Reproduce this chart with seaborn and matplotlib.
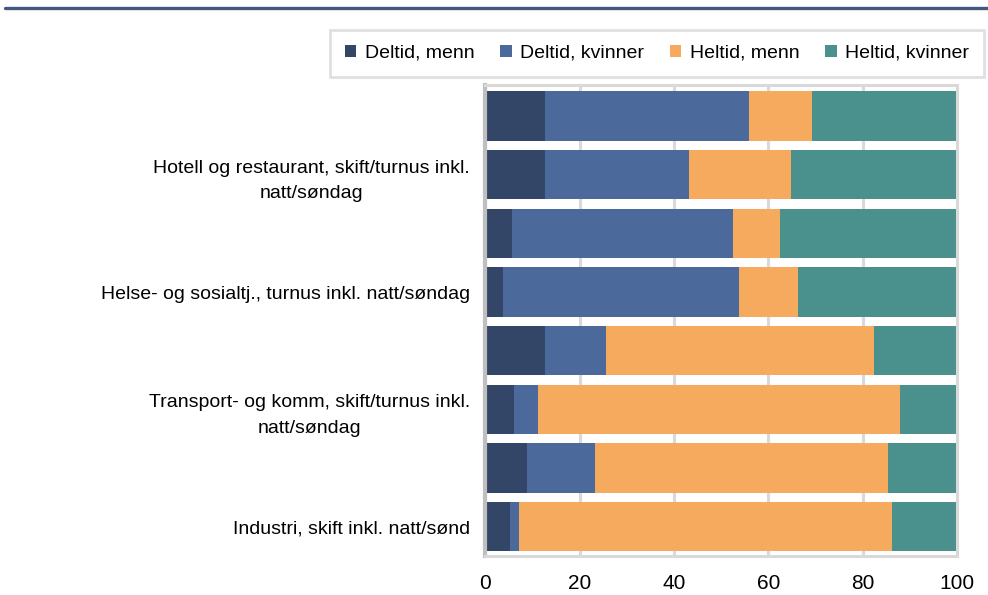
import matplotlib.pyplot as plt
import seaborn as sns
import pandas as pd
from matplotlib.lines import Line2D

# one row per bar, top to bottom
rows = ['rad1', 'rad2', 'rad3', 'rad4', 'rad5', 'rad6', 'rad7', 'rad8']
row_labels = ['',
              'Hotell og restaurant, skift/turnus inkl.\nnatt/søndag',
              '',
              'Helse- og sosialtj., turnus inkl. natt/søndag',
              '',
              'Transport- og komm, skift/turnus inkl.\nnatt/søndag',
              '',
              'Industri, skift inkl. natt/sønd']
deltid_menn = [12.6, 12.6, 5.8, 3.7, 12.6, 6.2, 8.8, 5.3]
deltid_kvinner = [43.4, 30.7, 46.8, 50.2, 13.1, 5.1, 14.4, 1.8]
heltid_menn = [13.2, 21.6, 9.8, 12.3, 56.7, 76.6, 62.1, 79.1]
heltid_kvinner = [30.8, 35.1, 37.6, 33.8, 17.6, 12.1, 14.7, 13.8]
series = ['Deltid, menn', 'Deltid, kvinner', 'Heltid, menn', 'Heltid, kvinner']
colors = ['#344667', '#4b6a9b', '#f6aa5e', '#4a908d']

df = pd.DataFrame({'rad': rows,
                   series[0]: deltid_menn,
                   series[1]: deltid_kvinner,
                   series[2]: heltid_menn,
                   series[3]: heltid_kvinner})
cum = df[series].cumsum(axis=1)
cum['rad'] = df['rad']

sns.set_style('white')
plt.rcParams['font.family'] = ['Liberation Sans', 'DejaVu Sans']
plt.rcParams['text.color'] = 'black'
plt.rcParams['xtick.color'] = 'black'
plt.rcParams['ytick.color'] = 'black'

fig = plt.figure(figsize=(9.88, 5.95), dpi=100)
ax = fig.add_axes([0.491, 0.0655, 0.4777, 0.7916])

# draw the longest cumulative first so shorter ones sit on top
for name, col in reversed(list(zip(series, colors))):
    sns.barplot(data=cum, x=name, y='rad', order=rows, orient='h', color=col,
                saturation=1, width=0.84, label=name, linewidth=0, ax=ax)

ax.set_xlim(0, 100)
ax.set_ylim(7.5, -0.53)
ax.set_xticks([0, 20, 40, 60, 80, 100])
ax.set_yticks(range(len(rows)))
ax.set_yticklabels(row_labels)
for t in ax.get_yticklabels():
    t.set_multialignment('center')
    t.set_linespacing(1.65)
ax.set_xlabel('')
ax.set_ylabel('')
ax.tick_params(axis='x', length=0, labelsize=15, pad=13, labelcolor='black')
ax.tick_params(axis='y', length=0, labelsize=14, pad=11, labelcolor='black')
ax.grid(axis='x', color='#d9d9d9', lw=2.2)
ax.grid(axis='y', visible=False)
ax.set_axisbelow(True)
for side in ['top', 'right', 'bottom']:
    ax.spines[side].set_color('#d9d9d9')
    ax.spines[side].set_linewidth(2.2)
ax.spines['left'].set_color('#bfbfbf')
ax.spines['left'].set_linewidth(3)

handles, labels = ax.get_legend_handles_labels()
if ax.get_legend() is not None:
    ax.get_legend().remove()
order = [labels.index(s) for s in series]
leg = fig.legend([handles[i] for i in order], series, loc='upper right',
                 bbox_to_anchor=(0.996, 0.949), borderaxespad=0, ncol=4,
                 fontsize=14, frameon=True, fancybox=False, edgecolor='#d9d9d9',
                 handlelength=0.6, handleheight=0.6, handletextpad=0.45,
                 columnspacing=1.3, borderpad=0.75, labelcolor='black')
leg.get_frame().set_linewidth(2)

fig.add_artist(Line2D([0.005, 1.0], [0.9866, 0.9866], color='#44597f', lw=2.4))

fig.savefig('out.png', dpi=100)
